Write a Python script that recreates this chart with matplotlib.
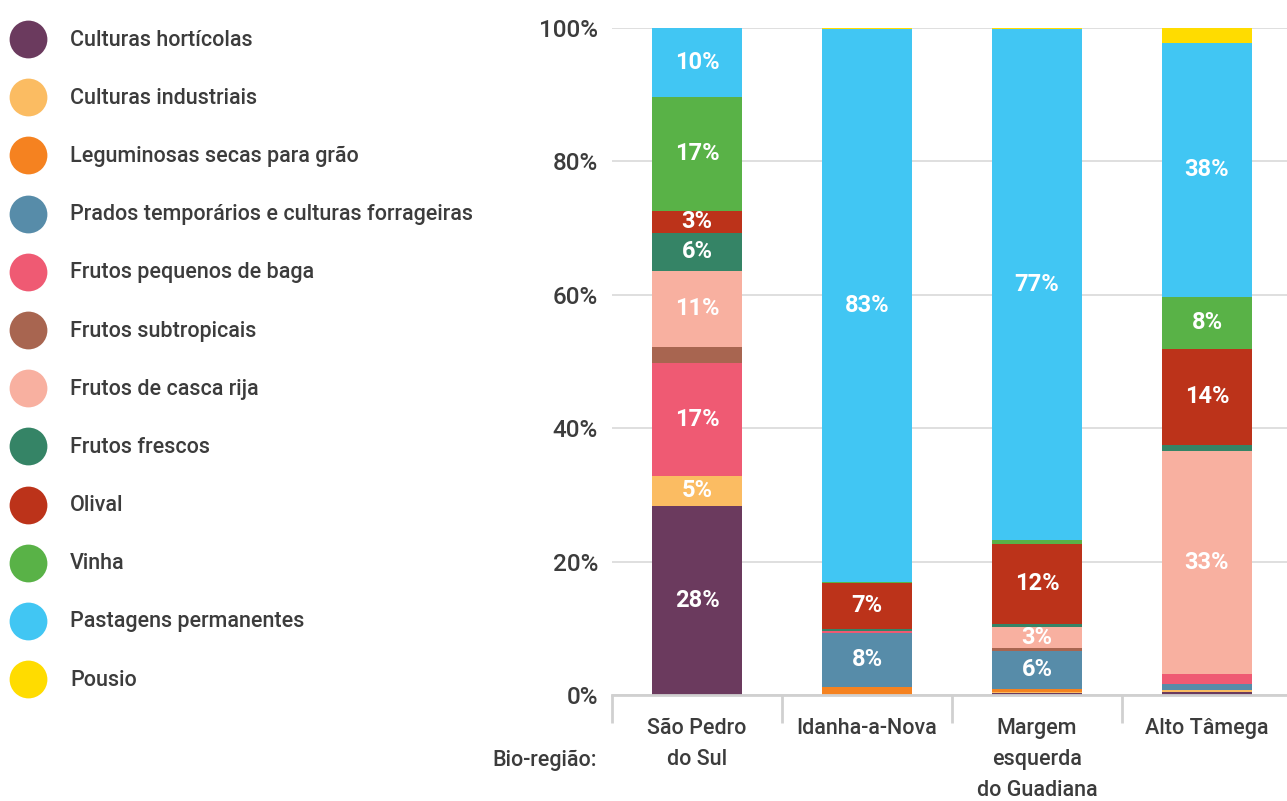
import matplotlib
matplotlib.use("Agg")
import matplotlib.pyplot as plt
import numpy as np

plt.rcParams['font.family'] = ['Roboto', 'DejaVu Sans']

categories = ["São Pedro\ndo Sul", "Idanha-a-Nova", "Margem\nesquerda\ndo Guadiana", "Alto Tâmega"]
series = ["Culturas hortícolas", "Culturas industriais", "Leguminosas secas para grão",
          "Prados temporários e culturas forrageiras", "Frutos pequenos de baga",
          "Frutos subtropicais", "Frutos de casca rija", "Frutos frescos", "Olival",
          "Vinha", "Pastagens permanentes", "Pousio"]
colors = ["#6B3A5E", "#FBBC62", "#F58220", "#578CA9", "#EF5A73", "#A86550",
          "#F8B0A0", "#358466", "#BC331A", "#59B247", "#41C6F3", "#FFDC00"]

horticolas   = [28.3, 0.0, 0.3, 0.5]
industriais  = [4.6, 0.0, 0.2, 0.2]
leguminosas  = [0.0, 1.2, 0.4, 0.0]
prados       = [0.0, 8.1, 5.7, 0.9]
pequenos     = [16.9, 0.3, 0.0, 1.6]
subtropicais = [2.4, 0.0, 0.4, 0.0]
casca_rija   = [11.4, 0.0, 3.2, 33.4]
frescos      = [5.7, 0.3, 0.5, 0.9]
olival       = [3.3, 6.9, 12.0, 14.4]
vinha        = [17.1, 0.1, 0.5, 7.8]
pastagens    = [10.3, 83.0, 76.6, 38.1]
pousio       = [0.0, 0.1, 0.2, 2.3]

values = [horticolas, industriais, leguminosas, prados, pequenos, subtropicais,
          casca_rija, frescos, olival, vinha, pastagens, pousio]

W, H = 1287, 801
fig = plt.figure(figsize=(W / 100, H / 100), dpi=100)
ax = fig.add_axes([612 / W, (H - 695) / H, 680 / W, 667 / H])

FS = 15.5
WT = "medium"
x = np.arange(len(categories))
bottom = np.zeros(len(categories))
txt = "#3C3C3C"
for name, vals, c in zip(series, values, colors):
    vals = np.array(vals)
    ax.bar(x, vals, bottom=bottom, width=0.535, color=c, linewidth=0, zorder=2)
    for xi, v, b in zip(x, vals, bottom):
        if v >= 2.5:
            ax.text(xi, b + v / 2, f"{round(v):d}%", ha="center", va="center",
                    color="white", fontsize=17, fontweight="bold", zorder=3)
    bottom += vals

ax.set_xlim(-0.5, 3.5)
ax.set_ylim(0, 100)
ax.set_yticks(np.arange(0, 101, 20))
ax.set_yticklabels([f"{v}%" for v in range(0, 101, 20)], fontsize=17.5,
                   color=txt, fontweight=WT)
ax.yaxis.grid(True, color="#D9D9D9", linewidth=1.2, zorder=0)
ax.set_axisbelow(True)
for s in ["top", "right", "left"]:
    ax.spines[s].set_visible(False)
ax.spines["bottom"].set_color("#D0D0D0")
ax.spines["bottom"].set_linewidth(2)
ax.tick_params(axis="y", length=0, pad=10)
ax.set_xticks(np.arange(-0.5, 4.0, 1.0))
ax.set_xticklabels([])
ax.tick_params(axis="x", length=20, width=2, color="#D0D0D0")
for xi, cat in zip(x, categories):
    ax.text(xi, -3.5, cat, ha="center", va="top", fontsize=FS, color=txt,
            linespacing=1.6, fontweight=WT)
fig.text(597 / W, 1 - 760 / H, "Bio-região:", ha="right", va="center",
         fontsize=FS, color=txt, fontweight=WT)

# legend
lax = fig.add_axes([0, 0, 0.5, 1])
lax.set_xlim(0, W * 0.5)
lax.set_ylim(H, 0)
lax.axis("off")
for i, (name, c) in enumerate(zip(series, colors)):
    yy = 39 + i * 58.2
    lax.scatter([28], [yy], s=740, color=c, linewidths=0)
    lax.text(70, yy + 1, name, ha="left", va="center", fontsize=FS, color=txt,
             fontweight=WT)

fig.savefig("out.png", dpi=100)
